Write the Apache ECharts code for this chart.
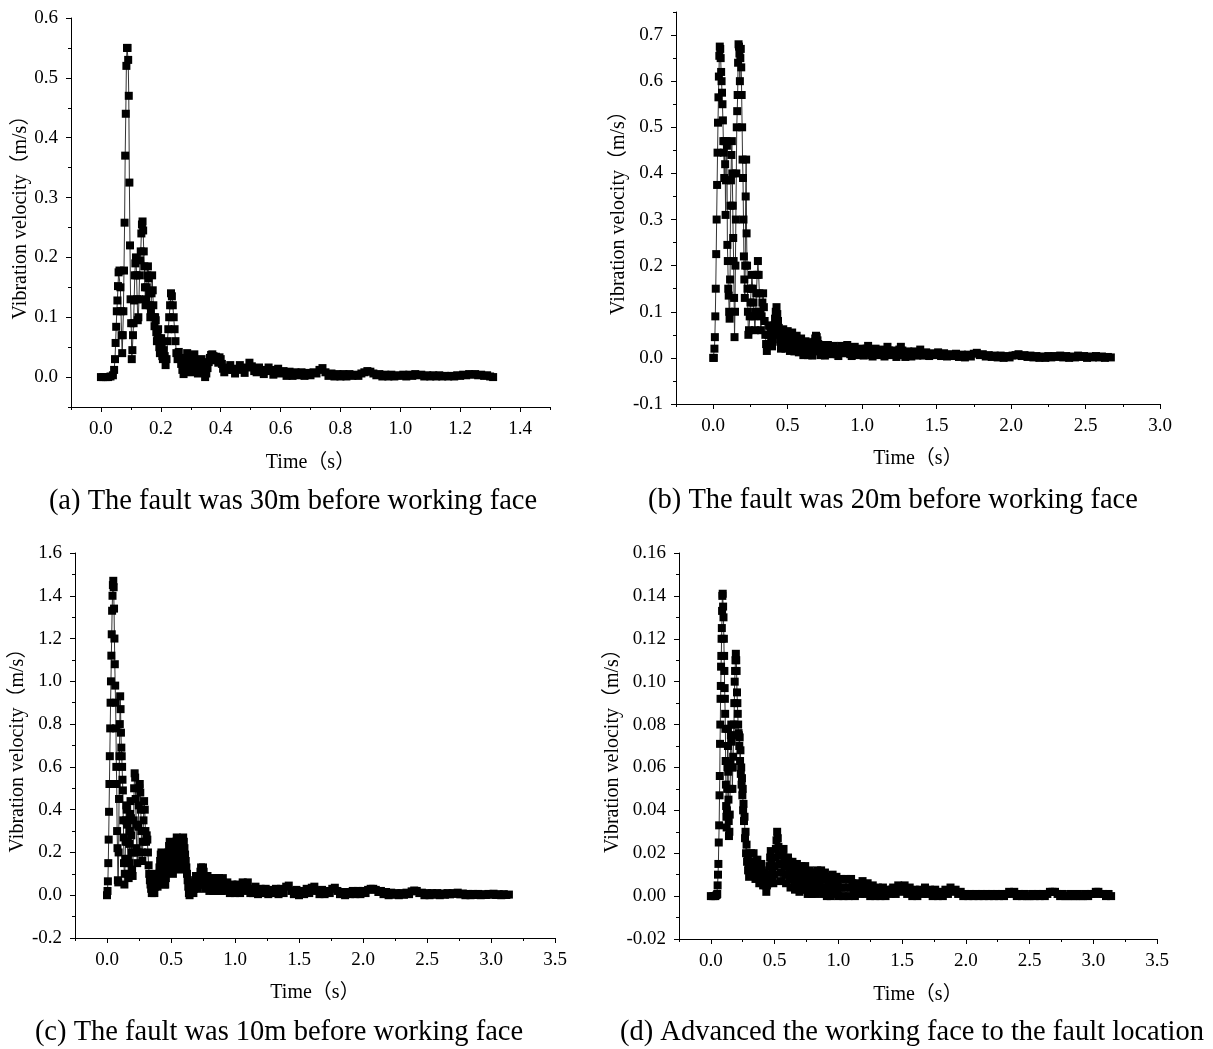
<!DOCTYPE html>
<html><head><meta charset="utf-8">
<script src="https://cdn.jsdelivr.net/npm/echarts@6/dist/echarts.min.js"></script>
<style>html,body{margin:0;padding:0;background:#fff}#c{width:1213px;height:1049px}</style>
</head><body><div id="c"></div>
<script>
// ---- data: [time (s), vibration velocity (m/s)] ----
const fault30m = [[0,0],[0.008,0],[0.016,0],[0.024,0],[0.032,0.001],[0.04,0.003],
[0.044,0.012],[0.047,0.03],[0.049,0.057],[0.051,0.084],[0.053,0.11],[0.055,0.128],[0.057,0.152],[0.059,0.175],[0.062,0.178],[0.065,0.15],[0.067,0.11],[0.069,0.07],[0.071,0.04],
[0.073,0.07],[0.075,0.11],[0.077,0.178],[0.079,0.258],[0.081,0.37],[0.083,0.44],[0.085,0.52],[0.087,0.55],[0.089,0.55],[0.091,0.53],[0.093,0.47],[0.095,0.325],[0.097,0.22],[0.099,0.13],[0.101,0.09],[0.103,0.03],
[0.105,0.045],[0.107,0.07],[0.109,0.09],[0.111,0.128],[0.113,0.17],[0.115,0.19],[0.117,0.2],[0.119,0.17],[0.121,0.13],[0.123,0.095],[0.125,0.1],[0.127,0.13],[0.129,0.17],[0.131,0.195],[0.133,0.21],[0.135,0.24],[0.137,0.255],[0.139,0.26],[0.141,0.245],[0.143,0.21],[0.145,0.185],[0.147,0.15],[0.149,0.12],[0.151,0.13],[0.153,0.15],[0.155,0.17],[0.157,0.185],[0.159,0.165],[0.161,0.14],[0.163,0.12],[0.165,0.1],[0.167,0.11],[0.169,0.14],[0.171,0.17],[0.173,0.145],[0.175,0.12],[0.177,0.1],[0.179,0.085],[0.181,0.1],[0.183,0.095],[0.185,0.075],[0.187,0.06],[0.189,0.07],[0.191,0.08],[0.193,0.065],[0.195,0.05],[0.197,0.04],[0.199,0.055],[0.201,0.065],[0.203,0.05],[0.205,0.035],[0.207,0.03],[0.21,0.045],[0.213,0.035],[0.216,0.02],[0.219,0.03],
[0.222,0.06],[0.225,0.08],[0.228,0.1],[0.231,0.12],[0.234,0.14],[0.237,0.135],[0.24,0.12],[0.243,0.1],[0.246,0.08],[0.249,0.06],[0.252,0.04],
[0.256,0.03],[0.26,0.042],[0.264,0.032],[0.268,0.022],[0.272,0.012],[0.276,0.005],[0.28,0.016],[0.284,0.028],[0.288,0.04],[0.292,0.03],[0.296,0.019],[0.3,0.008],[0.304,0.018],[0.308,0.028],[0.312,0.038],[0.316,0.028],[0.32,0.017],[0.324,0.006],[0.328,0.016],[0.332,0.027],[0.336,0.03],[0.34,0.02],[0.344,0.01],[0.348,0],[0.352,0.006],[0.356,0.015],[0.36,0.025],[0.364,0.032],[0.368,0.037],[0.372,0.038],[0.376,0.035],[0.38,0.028],[0.384,0.034],[0.388,0.032],[0.392,0.024],[0.396,0.033],[0.4,0.03],[0.404,0.022],[0.408,0.014],[0.412,0.008],[0.416,0.016],
[0.424,0.012],[0.432,0.02],[0.44,0.012],[0.448,0.006],[0.456,0.014],[0.464,0.02],[0.472,0.012],[0.48,0.007],[0.488,0.016],[0.496,0.024],[0.504,0.018],[0.512,0.01],[0.52,0.008],[0.528,0.016],[0.536,0.012],[0.544,0.005],[0.552,0.01],[0.56,0.016],[0.568,0.012],[0.576,0.004],[0.584,0.008],[0.592,0.014],[0.6,0.006],
[0.61,0.01],[0.62,0.002],[0.63,0.009],[0.64,0.002],[0.65,0.008],[0.66,0.003],[0.67,0.008],[0.68,0.002],[0.69,0.007],[0.7,0.003],[0.71,0.008],[0.72,0.006],[0.73,0.012],[0.74,0.015],[0.75,0.008],[0.76,0.002],[0.77,0.006],[0.78,0.001],[0.79,0.005],[0.8,0.001],[0.81,0.005],[0.82,0.001],[0.83,0.005],[0.84,0.002],[0.85,0.004],[0.86,0.002],[0.87,0.006],[0.88,0.008],[0.89,0.01],[0.9,0.009],[0.91,0.006],[0.92,0.003],[0.93,0.005],[0.94,0.001],[0.95,0.004],[0.96,0.001],[0.97,0.004],[0.98,0.001],[0.99,0.003],[1.0,0.002],[1.01,0.004],[1.02,0.001],[1.03,0.004],[1.04,0.002],[1.05,0.005],[1.06,0.003],[1.07,0.004],[1.08,0.001],[1.09,0.003],[1.1,0.001],[1.11,0.003],[1.12,0.001],[1.13,0.003],[1.14,0.001],[1.15,0.002],[1.16,0.001],[1.17,0.002],[1.18,0.001],[1.19,0.003],[1.2,0.002],[1.21,0.004],[1.22,0.003],[1.23,0.005],[1.24,0.004],[1.25,0.005],[1.26,0.003],[1.27,0.004],[1.28,0.002],[1.29,0.003],[1.3,0.001],[1.31,0]];

const fault20m = [[0,0],[0.004,0],[0.008,0.02],[0.011,0.045],[0.014,0.09],[0.017,0.15],[0.02,0.225],[0.023,0.3],[0.026,0.375],[0.029,0.445],[0.032,0.51],[0.035,0.565],[0.038,0.61],[0.041,0.655],[0.044,0.675],[0.047,0.67],[0.05,0.65],[0.053,0.62],[0.056,0.6],[0.059,0.575],[0.062,0.55],[0.065,0.515],[0.068,0.47],
[0.071,0.445],[0.074,0.39],[0.077,0.47],[0.08,0.42],[0.083,0.31],[0.086,0.385],[0.089,0.47],[0.092,0.46],[0.095,0.245],[0.098,0.21],[0.101,0.15],[0.104,0.135],[0.107,0.1],[0.11,0.085],[0.113,0.17],[0.116,0.33],[0.119,0.385],[0.122,0.44],[0.125,0.47],[0.128,0.4],[0.131,0.33],[0.134,0.26],[0.137,0.21],[0.14,0.13],[0.143,0.045],
[0.146,0.1],[0.149,0.2],[0.152,0.3],[0.155,0.4],[0.158,0.5],[0.161,0.535],[0.164,0.57],[0.167,0.64],[0.17,0.68],[0.173,0.675],[0.176,0.66],[0.179,0.6],[0.182,0.65],[0.185,0.67],[0.188,0.63],[0.191,0.57],[0.194,0.5],[0.197,0.43],[0.2,0.39],[0.203,0.3],[0.206,0.22],[0.209,0.17],[0.212,0.13],[0.215,0.2],[0.218,0.35],[0.221,0.43],[0.224,0.27],[0.227,0.2],[0.23,0.15],[0.233,0.1],[0.236,0.05],
[0.24,0.06],[0.245,0.09],[0.25,0.12],[0.255,0.15],[0.26,0.18],[0.265,0.15],[0.27,0.12],[0.275,0.09],[0.28,0.06],[0.285,0.1],[0.29,0.14],[0.295,0.18],[0.3,0.21],[0.305,0.18],[0.31,0.14],[0.315,0.1],[0.32,0.06],[0.325,0.09],[0.33,0.12],[0.335,0.14],[0.34,0.11],[0.345,0.08],[0.35,0.05],[0.355,0.03],[0.36,0.015],[0.365,0.03],[0.37,0.05],[0.375,0.07],[0.38,0.07],[0.385,0.055],[0.39,0.04],[0.395,0.025],[0.4,0.04],[0.405,0.055],[0.41,0.07],[0.415,0.085],[0.42,0.1],[0.425,0.11],[0.43,0.095],[0.435,0.08],[0.44,0.065],[0.445,0.05],[0.45,0.035],[0.455,0.02],[0.46,0.035],[0.465,0.05],[0.47,0.062],[0.475,0.05],[0.48,0.035],[0.485,0.02],[0.49,0.03],[0.495,0.045],[0.5,0.058],[0.505,0.045],[0.51,0.03],[0.515,0.015],[0.52,0.028],[0.525,0.042],[0.53,0.055],[0.535,0.042],[0.54,0.028],[0.545,0.014],[0.55,0.024],[0.555,0.036],[0.56,0.048],[0.565,0.036],[0.57,0.024],[0.575,0.012],[0.58,0.022],[0.585,0.032],[0.59,0.042],[0.595,0.03],[0.6,0.018],[0.605,0.006],[0.61,0.016],[0.615,0.026],[0.62,0.036],[0.625,0.026],[0.63,0.016],[0.635,0.006],[0.64,0.016],[0.645,0.026],[0.65,0.034],[0.655,0.024],[0.66,0.014],[0.665,0.005],[0.67,0.015],[0.675,0.025],[0.68,0.035],[0.685,0.042],[0.69,0.048],[0.695,0.045],[0.7,0.038],[0.705,0.03],[0.71,0.022],[0.715,0.014],[0.72,0.006],[0.725,0.014],[0.73,0.022],[0.735,0.028],[0.74,0.02],[0.745,0.012],[0.75,0.005],
[0.76,0.02],[0.77,0.028],[0.78,0.018],[0.79,0.008],[0.8,0.016],[0.81,0.026],[0.82,0.02],[0.83,0.008],[0.84,0.004],[0.85,0.015],[0.86,0.026],[0.87,0.02],[0.88,0.01],[0.89,0.02],[0.9,0.028],[0.91,0.02],[0.92,0.008],[0.93,0.004],[0.94,0.014],[0.95,0.024],[0.96,0.016],[0.97,0.006],[0.98,0.012],[0.99,0.02],[1.0,0.014],[1.01,0.005],[1.02,0.01],[1.03,0.02],[1.04,0.026],[1.05,0.016],[1.06,0.006],[1.07,0.003],[1.08,0.012],[1.09,0.02],[1.1,0.014],[1.11,0.006],[1.12,0.012],[1.13,0.018],[1.14,0.01],[1.15,0.003],[1.16,0.014],[1.17,0.024],[1.18,0.016],[1.19,0.006],[1.2,0.01],[1.21,0.016],[1.22,0.008],[1.23,0.002],[1.24,0.01],[1.25,0.018],[1.26,0.024],[1.27,0.016],[1.28,0.006],[1.29,0.002],[1.3,0.01],
[1.31,0.014],[1.33,0.003],[1.35,0.014],[1.37,0.005],[1.39,0.018],[1.41,0.005],[1.43,0.012],[1.45,0.004],[1.47,0.01],[1.49,0.006],[1.51,0.012],[1.53,0.004],[1.55,0.01],[1.57,0.003],[1.59,0.008],[1.61,0.004],[1.63,0.009],[1.65,0.002],[1.67,0.007],[1.69,0.001],[1.71,0.007],[1.73,0.003],[1.75,0.009],[1.77,0.011],[1.79,0.006],[1.81,0.008],[1.83,0.003],[1.85,0.006],[1.87,0.002],[1.89,0.005],[1.91,0.001],[1.93,0.005],[1.95,0],[1.97,0.004],[1.99,0.001],[2.01,0.005],[2.03,0.006],[2.05,0.008],[2.07,0.004],[2.09,0.006],[2.11,0.002],[2.13,0.005],[2.15,0.001],[2.17,0.004],[2.19,0],[2.21,0.003],[2.23,0],[2.25,0.004],[2.27,0.001],[2.29,0.004],[2.31,0.002],[2.33,0.005],[2.35,0.001],[2.37,0.004],[2.39,0],[2.41,0.003],[2.43,0.001],[2.45,0.005],[2.47,0.002],[2.49,0.004],[2.51,0],[2.53,0.003],[2.55,0.001],[2.57,0.004],[2.59,0.001],[2.61,0.003],[2.63,0],[2.65,0.002],[2.67,0.001]];

const fault10m = [[0,0],[0.004,0.02],[0.007,0.065],[0.01,0.15],[0.013,0.26],[0.016,0.39],[0.019,0.52],[0.022,0.65],[0.025,0.78],[0.028,0.9],[0.031,1.0],[0.034,1.12],[0.037,1.22],[0.04,1.33],[0.043,1.4],[0.046,1.45],[0.049,1.47],[0.052,1.44],[0.055,1.34],[0.058,1.2],[0.061,1.08],[0.064,0.98],[0.067,0.9],[0.07,0.78],[0.073,0.6],[0.076,0.52],[0.079,0.3],[0.082,0.22],[0.085,0.07],[0.088,0.06],[0.091,0.2],[0.094,0.45],[0.097,0.65],[0.1,0.8],[0.103,0.93],[0.106,0.87],[0.109,0.76],[0.112,0.69],[0.115,0.65],[0.118,0.6],[0.121,0.54],[0.124,0.49],[0.127,0.35],[0.13,0.27],[0.133,0.15],[0.136,0.05],[0.139,0.1],[0.142,0.17],[0.145,0.25],[0.148,0.35],[0.151,0.42],[0.154,0.4],[0.157,0.33],[0.16,0.25],[0.163,0.17],[0.166,0.1],[0.169,0.08],[0.172,0.15],[0.175,0.24],[0.178,0.3],[0.181,0.38],[0.184,0.44],[0.187,0.36],[0.19,0.28],[0.193,0.2],[0.196,0.12],[0.2,0.09],[0.204,0.2],[0.208,0.35],[0.212,0.5],[0.216,0.57],[0.22,0.55],[0.224,0.45],[0.228,0.33],[0.232,0.22],[0.236,0.15],[0.24,0.2],[0.244,0.32],[0.248,0.42],[0.252,0.5],[0.256,0.52],[0.26,0.48],[0.264,0.4],[0.268,0.3],[0.272,0.2],[0.276,0.16],[0.28,0.25],[0.285,0.35],[0.29,0.44],[0.295,0.4],[0.3,0.3],[0.305,0.25],[0.31,0.28],[0.315,0.26],[0.32,0.2],[0.325,0.14],
[0.33,0.1],[0.335,0.07],[0.34,0.05],[0.345,0.03],[0.35,0.01],[0.355,0.03],[0.36,0.04],[0.365,0.02],[0.37,0.01],[0.375,0.04],[0.38,0.07],[0.385,0.1],[0.39,0.07],[0.395,0.04],[0.4,0.07],[0.405,0.1],[0.41,0.13],[0.415,0.16],[0.42,0.19],[0.425,0.2],[0.43,0.17],[0.435,0.14],[0.44,0.11],[0.445,0.08],[0.45,0.05],[0.455,0.05],[0.46,0.08],[0.465,0.11],[0.47,0.14],[0.475,0.17],[0.48,0.2],[0.485,0.23],[0.49,0.25],[0.495,0.22],[0.5,0.19],[0.505,0.16],[0.51,0.13],[0.515,0.1],[0.52,0.13],[0.525,0.16],[0.53,0.19],[0.535,0.22],[0.54,0.25],[0.545,0.27],[0.55,0.24],[0.555,0.21],[0.56,0.18],[0.565,0.15],[0.57,0.12],[0.575,0.15],[0.58,0.18],[0.585,0.21],[0.59,0.24],[0.595,0.27],[0.6,0.25],[0.605,0.22],[0.61,0.19],[0.615,0.16],[0.62,0.13],[0.625,0.1],[0.63,0.07],[0.635,0.04],[0.64,0.01],[0.645,0],
[0.65,0.02],[0.655,0.04],[0.66,0.06],[0.665,0.05],[0.67,0.03],[0.675,0.01],[0.68,0.03],[0.685,0.05],[0.69,0.07],[0.695,0.09],[0.7,0.07],[0.705,0.05],[0.71,0.03],[0.715,0.05],[0.72,0.07],[0.725,0.09],[0.73,0.11],[0.735,0.13],[0.74,0.12],[0.745,0.1],[0.75,0.13],[0.755,0.11],[0.76,0.08],[0.765,0.05],[0.77,0.03],[0.775,0.05],[0.78,0.07],[0.785,0.09],[0.79,0.07],[0.795,0.04],[0.8,0.02],[0.805,0.04],[0.81,0.06],[0.815,0.08],[0.82,0.06],[0.825,0.04],[0.83,0.02],[0.835,0.04],[0.84,0.06],[0.845,0.08],[0.85,0.06],[0.855,0.04],[0.86,0.02],[0.865,0.04],[0.87,0.06],[0.875,0.08],[0.88,0.06],[0.885,0.04],[0.89,0.02],[0.895,0.04],[0.9,0.06],[0.905,0.08],[0.91,0.05],[0.92,0.02],[0.93,0.04],[0.94,0.06],[0.95,0.04],[0.96,0.01],[0.97,0.03],[0.98,0.05],[0.99,0.03],[1.0,0.01],[1.01,0.03],[1.02,0.05],[1.03,0.03],[1.04,0.01],[1.05,0.03],[1.06,0.06],[1.07,0.04],[1.08,0.02],[1.09,0.04],[1.1,0.06],[1.11,0.03],[1.12,0.01],
[1.14,0.01],[1.16,0.04],[1.18,0.005],[1.2,0.03],[1.22,0.01],[1.24,0.03],[1.26,0.005],[1.28,0.025],[1.3,0.01],[1.32,0.03],[1.34,0.005],[1.36,0.03],[1.38,0.01],[1.4,0.04],[1.42,0.045],[1.44,0.02],[1.46,0.005],[1.48,0.025],[1.5,0],[1.52,0.02],[1.54,0.005],[1.56,0.03],[1.58,0.01],[1.6,0.035],[1.62,0.04],[1.64,0.02],[1.66,0.005],[1.68,0.025],[1.7,0.005],[1.72,0.02],[1.74,0.01],[1.76,0.03],[1.78,0.035],[1.8,0.02],[1.82,0.005],[1.84,0.015],[1.86,0],[1.88,0.015],[1.9,0.005],[1.92,0.02],[1.94,0.005],[1.96,0.02],[1.98,0.005],[2.0,0.02],[2.02,0.01],[2.04,0.025],[2.06,0.03],[2.08,0.03],[2.1,0.025],[2.12,0.015],[2.14,0.02],[2.16,0.005],[2.18,0.015],[2.2,0],[2.22,0.012],[2.24,0.002],[2.26,0.01],[2.28,0],[2.3,0.01],[2.32,0.002],[2.34,0.012],[2.36,0.005],[2.38,0.018],[2.4,0.022],[2.42,0.02],[2.44,0.01],[2.46,0.012],[2.48,0],[2.5,0.01],[2.52,0],[2.54,0.01],[2.56,0.002],[2.58,0.01],[2.6,0],[2.62,0.008],[2.64,0.002],[2.66,0.01],[2.68,0.004],[2.7,0.01],[2.72,0.006],[2.74,0.012],[2.76,0.004],[2.78,0.008],[2.8,0],[2.82,0.006],[2.84,0],[2.86,0.006],[2.88,0.001],[2.9,0.006],[2.92,0],[2.94,0.005],[2.96,0.001],[2.98,0.006],[3.0,0.002],[3.02,0.007],[3.04,0.001],[3.06,0.005],[3.08,0],[3.1,0.005],[3.12,0.001],[3.14,0.003]];

const faultAtFace = [[0,0],[0.02,0],[0.035,0],[0.045,0.0005],[0.05,0.001],[0.053,0.005],[0.056,0.01],[0.059,0.015],[0.062,0.025],[0.065,0.033],[0.068,0.047],[0.07,0.056],[0.072,0.071],[0.074,0.08],[0.076,0.092],[0.078,0.098],[0.08,0.107],[0.082,0.112],[0.084,0.12],[0.086,0.125],[0.088,0.133],[0.09,0.14],[0.093,0.141],[0.096,0.135],[0.099,0.13],[0.102,0.12],[0.104,0.112],[0.106,0.105],[0.108,0.097],[0.11,0.092],[0.112,0.085],[0.114,0.078],[0.116,0.063],[0.118,0.052],[0.12,0.042],[0.122,0.037],[0.124,0.032],[0.126,0.04],[0.128,0.05],[0.13,0.06],[0.132,0.078],[0.134,0.07],[0.136,0.058],[0.138,0.045],[0.14,0.035],[0.142,0.028],[0.145,0.03],[0.148,0.038],[0.151,0.05],[0.154,0.062],[0.157,0.075],[0.16,0.08],[0.163,0.072],[0.166,0.06],[0.169,0.05],[0.172,0.06],[0.175,0.065],[0.178,0.075],[0.181,0.08],[0.184,0.09],[0.187,0.1],[0.19,0.105],[0.193,0.11],[0.196,0.113],[0.199,0.11],[0.202,0.105],[0.205,0.095],[0.208,0.09],[0.211,0.085],[0.214,0.08],[0.217,0.076],[0.22,0.075],[0.223,0.07],[0.226,0.074],[0.229,0.063],[0.232,0.068],[0.235,0.057],[0.238,0.06],[0.241,0.052],[0.244,0.055],[0.247,0.047],[0.25,0.05],[0.253,0.04],[0.256,0.043],[0.26,0.035],[0.264,0.037],[0.268,0.027],[0.272,0.03],[0.276,0.02],[0.28,0.024],[0.284,0.016],[0.288,0.019],[0.292,0.012],[0.296,0.015],[0.3,0.009],[0.305,0.013],[0.31,0.016],[0.315,0.02],[0.32,0.016],[0.325,0.012],[0.33,0.016],[0.335,0.02],
[0.34,0.016],[0.345,0.012],[0.35,0.008],[0.355,0.011],[0.36,0.014],[0.365,0.017],[0.37,0.014],[0.375,0.01],[0.38,0.006],[0.385,0.009],[0.39,0.012],[0.395,0.015],[0.4,0.012],[0.405,0.008],[0.41,0.005],[0.415,0.008],[0.42,0.011],[0.425,0.008],[0.43,0.005],[0.435,0.002],[0.44,0.005],[0.445,0.008],
[0.45,0.006],[0.455,0.01],[0.46,0.014],[0.465,0.018],[0.47,0.021],[0.475,0.017],[0.48,0.013],[0.485,0.009],[0.49,0.006],[0.495,0.01],[0.5,0.014],[0.505,0.018],[0.51,0.022],[0.515,0.026],[0.52,0.03],[0.525,0.027],[0.53,0.023],[0.535,0.019],[0.54,0.015],[0.545,0.011],[0.55,0.007],[0.555,0.011],[0.56,0.015],[0.565,0.019],[0.57,0.022],[0.575,0.018],[0.58,0.014],[0.585,0.01],[0.59,0.006],[0.595,0.01],[0.6,0.014],[0.605,0.018],[0.61,0.016],[0.615,0.012],[0.62,0.008],[0.625,0.004],[0.63,0.008],[0.635,0.012],[0.64,0.016],[0.645,0.013],[0.65,0.009],[0.655,0.005],[0.66,0.003],[0.665,0.007],[0.67,0.011],[0.675,0.015],[0.68,0.012],[0.685,0.008],[0.69,0.004],[0.695,0.002],[0.7,0.006],[0.705,0.01],[0.71,0.014],[0.715,0.011],[0.72,0.007],[0.725,0.003],[0.73,0.006],[0.735,0.01],[0.74,0.014],[0.745,0.011],[0.75,0.007],[0.755,0.003],[0.76,0.001],[0.765,0.005],[0.77,0.009],[0.775,0.012],[0.78,0.009],[0.785,0.005],[0.79,0.001],[0.795,0.004],[0.8,0.008],[0.805,0.011],[0.81,0.008],[0.815,0.004],[0.82,0.001],[0.825,0.005],[0.83,0.009],[0.835,0.012],[0.84,0.009],[0.845,0.005],[0.85,0.002],[0.855,0.005],[0.86,0.009],[0.865,0.012],[0.87,0.008],[0.875,0.004],[0.88,0.001],[0.885,0.004],[0.89,0.008],[0.895,0.011],[0.9,0.008],[0.905,0.004],[0.91,0],[0.915,0.003],[0.92,0.006],[0.925,0.009],[0.93,0.006],[0.935,0.003],[0.94,0],[0.945,0.004],[0.95,0.008],[0.955,0.01],[0.96,0.007],[0.965,0.004],[0.97,0.001],[0.975,0.004],[0.98,0.007],[0.985,0.009],[0.99,0.006],[0.995,0.003],
[1.0,0],[1.01,0.004],[1.02,0.008],[1.03,0.004],[1.04,0],[1.05,0.004],[1.06,0.008],[1.07,0.004],[1.08,0],[1.09,0.004],[1.1,0.008],[1.11,0.006],[1.12,0.003],[1.13,0],[1.14,0.003],[1.15,0.006],[1.16,0.003],[1.17,0.001],[1.18,0.004],[1.19,0.007],[1.2,0.004],[1.21,0.001],[1.22,0.003],[1.23,0.006],[1.24,0.003],[1.25,0],[1.26,0.003],[1.27,0.005],[1.28,0.003],[1.29,0],[1.3,0.002],[1.31,0.004],[1.32,0.002],[1.33,0],[1.34,0.002],[1.35,0.004],[1.36,0.002],[1.37,0],[1.38,0.002],[1.39,0.003],[1.4,0.002],[1.41,0.001],[1.42,0.003],[1.43,0.004],[1.44,0.003],[1.45,0.001],[1.46,0.003],[1.47,0.005],[1.48,0.004],[1.49,0.002],[1.5,0.004],
[1.52,0.005],[1.54,0.001],[1.56,0.004],[1.58,0],[1.6,0.003],[1.62,0],[1.64,0.003],[1.66,0.001],[1.68,0.004],[1.7,0.001],[1.72,0.003],[1.74,0],[1.76,0.003],[1.78,0],[1.8,0.002],[1.82,0],[1.84,0.003],[1.86,0.001],[1.88,0.004],[1.9,0.002],[1.92,0.003],[1.94,0.001],[1.96,0.002],[1.98,0],[2.0,0.001],[2.02,0],[2.04,0.001],[2.06,0],[2.08,0.001],[2.1,0],[2.12,0.001],[2.14,0],[2.16,0.001],[2.18,0],[2.2,0.001],[2.22,0],[2.24,0.001],[2.26,0],[2.28,0.001],[2.3,0],[2.32,0.001],[2.34,0.002],[2.36,0.001],[2.38,0.002],[2.4,0],[2.42,0.001],[2.44,0],[2.46,0.001],[2.48,0],[2.5,0],[2.52,0.001],[2.54,0],[2.56,0.001],[2.58,0],[2.6,0.001],[2.62,0],[2.64,0.001],[2.66,0.002],[2.68,0.002],[2.7,0.002],[2.72,0.001],[2.74,0],[2.76,0.001],[2.78,0],[2.8,0],[2.82,0.001],[2.84,0],[2.86,0],[2.88,0.001],[2.9,0],[2.92,0],[2.94,0.001],[2.96,0],[2.98,0.001],[3.0,0.001],[3.02,0.002],[3.04,0.002],[3.06,0.001],[3.08,0.001],[3.1,0],[3.12,0.001],[3.14,0]];

// ---- tick labels ----
const xMajorA = [0,0.2,0.4,0.6,0.8,1.0,1.2,1.4];
const xMinorA = [-0.1,0.1,0.3,0.5,0.7,0.9,1.1,1.3,1.5];
const yMajorA = [0,0.1,0.2,0.3,0.4,0.5,0.6];
const yMinorA = [-0.05,0.05,0.15,0.25,0.35,0.45,0.55];
const xMajorB = [0,0.5,1.0,1.5,2.0,2.5,3.0];
const xMinorB = [-0.25,0.25,0.75,1.25,1.75,2.25,2.75];
const yMajorB = [-0.1,0,0.1,0.2,0.3,0.4,0.5,0.6,0.7];
const yMinorB = [-0.05,0.05,0.15,0.25,0.35,0.45,0.55,0.65,0.75];
const xMajorCD = [0,0.5,1.0,1.5,2.0,2.5,3.0,3.5];
const xMinorCD = [-0.25,0.25,0.75,1.25,1.75,2.25,2.75,3.25];
const yMajorC = [-0.2,0,0.2,0.4,0.6,0.8,1.0,1.2,1.4,1.6];
const yMinorC = [-0.1,0.1,0.3,0.5,0.7,0.9,1.1,1.3,1.5];
const yMajorD = [-0.02,0,0.02,0.04,0.06,0.08,0.10,0.12,0.14,0.16];
const yMinorD = [-0.01,0.01,0.03,0.05,0.07,0.09,0.11,0.13,0.15];

const captions = ['(a) The fault was 30m before working face','(b) The fault was 20m before working face','(c) The fault was 10m before working face','(d) Advanced the working face to the fault location'];
const xTitle = 'Time（s）';
const yTitle = 'Vibration velocity（m/s）';

// ---- layout ----
const FONT = "'Liberation Serif','Times New Roman','Noto Sans CJK SC',serif";
const panels = [
  {grid:{left:71,top:18,width:479,height:389}, x:{min:-0.1,max:1.5,major:xMajorA,minor:xMinorA,dec:1,gap:46}, y:{min:-0.05,max:0.6,major:yMajorA,minor:yMinorA,dec:1,gap:39}, data:fault30m, cap:[293,502]},
  {grid:{left:676,top:12,width:484,height:392}, x:{min:-0.25,max:3.0,major:xMajorB,minor:xMinorB,dec:1,gap:45}, y:{min:-0.1,max:0.75,major:yMajorB,minor:yMinorB,dec:1,gap:47}, data:fault20m, cap:[893,501]},
  {grid:{left:75,top:553,width:480,height:385}, x:{min:-0.25,max:3.5,major:xMajorCD,minor:xMinorCD,dec:1,gap:45}, y:{min:-0.2,max:1.6,major:yMajorC,minor:yMinorC,dec:1,gap:41}, data:fault10m, cap:[279,1033]},
  {grid:{left:679,top:553,width:478,height:386}, x:{min:-0.25,max:3.5,major:xMajorCD,minor:xMinorCD,dec:1,gap:46}, y:{min:-0.02,max:0.16,major:yMajorD,minor:yMinorD,dec:2,gap:53}, data:faultAtFace, cap:[912,1033]}
];

const grids=[], xAxes=[], yAxes=[], series=[], graphics=[];
const txt = {color:'#000', fontFamily:FONT, fontSize:19};
panels.forEach((p,i)=>{
  grids.push(Object.assign({outerBoundsMode:'none'}, p.grid));
  const mk = (s, isX) => ([
    {type:'value', gridIndex:i, min:s.min, max:s.max, position:isX?'bottom':'left',
     axisLine:{show:true,onZero:false,lineStyle:{color:'#000',width:1}},
     axisTick:{show:true,inside:false,length:5,customValues:s.major,lineStyle:{color:'#000',width:1}},
     axisLabel:Object.assign({customValues:s.major,formatter:v=>Number(v).toFixed(s.dec),margin:13},txt),
     splitLine:{show:false},
     name:isX?xTitle:yTitle, nameLocation:'middle', nameGap:s.gap, nameRotate:isX?0:90,
     nameTextStyle:{color:'#000',fontFamily:FONT,fontSize:20}},
    {type:'value', gridIndex:i, min:s.min, max:s.max, position:isX?'bottom':'left',
     axisLine:{show:false,onZero:false},
     axisTick:{show:true,inside:false,length:3,customValues:s.minor,lineStyle:{color:'#000',width:1}},
     axisLabel:{show:false}, splitLine:{show:false}}
  ]);
  xAxes.push(...mk(p.x,true));
  yAxes.push(...mk(p.y,false));
  series.push({type:'line', xAxisIndex:2*i, yAxisIndex:2*i, data:p.data, symbol:'rect', symbolSize:8,
    showAllSymbol:true, itemStyle:{color:'#000'}, lineStyle:{color:'#333',width:1}, silent:true, z:3});
  graphics.push({type:'text', x:p.cap[0], y:p.cap[1], style:{text:captions[i], fill:'#000', fontFamily:FONT, fontSize:28.5, align:'center', verticalAlign:'middle'}});
});

const chart = echarts.init(document.getElementById('c'), null, {renderer:'canvas'});
chart.setOption({animation:false, backgroundColor:'#fff', grid:grids, xAxis:xAxes, yAxis:yAxes, series:series, graphic:graphics});
</script></body></html>
